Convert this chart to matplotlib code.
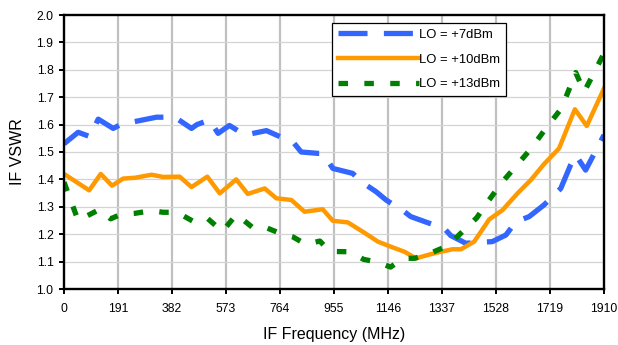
"""
IF VSWR vs IF frequency at three LO drive levels
"""

import matplotlib
matplotlib.use("Agg")
import matplotlib.pyplot as plt

plt.rcParams['font.family'] = ['Liberation Sans', 'DejaVu Sans']

# LO = +7dBm
freq_7 = [0, 50, 92, 121, 174, 200, 245, 327, 392, 451, 470, 515, 545, 585,
          640, 716, 790, 809, 839, 898, 915, 951, 1021, 1051, 1104, 1139,
          1204, 1227, 1292, 1345, 1368, 1421, 1515, 1563, 1598, 1645, 1698,
          1757, 1792, 1810, 1845, 1910]
vswr_7 = [1.53, 1.572, 1.556, 1.62, 1.586, 1.60, 1.61, 1.627, 1.627, 1.586,
          1.60, 1.617, 1.568, 1.597, 1.562, 1.578, 1.544, 1.538, 1.50, 1.495,
          1.495, 1.44, 1.422, 1.392, 1.355, 1.325, 1.282, 1.264, 1.24, 1.221,
          1.195, 1.167, 1.173, 1.197, 1.245, 1.264, 1.307, 1.367, 1.453,
          1.489, 1.434, 1.562]

# LO = +10dBm
freq_10 = [0, 89, 130, 170, 209, 251, 310, 350, 409, 451, 507, 551, 609, 650,
           710, 751, 804, 851, 915, 951, 1004, 1057, 1110, 1157, 1204, 1245,
           1290, 1333, 1374, 1404, 1451, 1504, 1551, 1604, 1653, 1698, 1751,
           1807, 1849, 1910]
vswr_10 = [1.42, 1.36, 1.42, 1.377, 1.403, 1.406, 1.417, 1.409, 1.41, 1.372,
           1.41, 1.349, 1.40, 1.347, 1.367, 1.331, 1.325, 1.282, 1.291, 1.249,
           1.243, 1.209, 1.173, 1.154, 1.136, 1.112, 1.125, 1.136, 1.145,
           1.145, 1.173, 1.254, 1.288, 1.349, 1.40, 1.456, 1.513, 1.656,
           1.595, 1.732]

# LO = +13dBm
freq_13 = [0, 50, 125, 165, 200, 250, 310, 350, 400, 455, 505, 560, 610, 670,
           710, 760, 810, 855, 905, 940, 1010, 1060, 1110, 1155, 1200, 1240,
           1290, 1340, 1380, 1420, 1460, 1500, 1550, 1600, 1650, 1700, 1760,
           1810, 1840, 1910]
vswr_13 = [1.39, 1.25, 1.29, 1.256, 1.272, 1.276, 1.286, 1.28, 1.28, 1.248,
           1.26, 1.21, 1.272, 1.222, 1.226, 1.205, 1.19, 1.163, 1.175, 1.137,
           1.136, 1.108, 1.098, 1.08, 1.112, 1.112, 1.128, 1.15, 1.18, 1.22,
           1.26, 1.32, 1.39, 1.45, 1.51, 1.58, 1.66, 1.79, 1.72, 1.86]

xticks = [0, 191, 382, 573, 764, 955, 1146, 1337, 1528, 1719, 1910]
yticks = [1.0, 1.1, 1.2, 1.3, 1.4, 1.5, 1.6, 1.7, 1.8, 1.9, 2.0]

fig = plt.figure(figsize=(6.18, 3.45), dpi=100)
ax = fig.add_axes([64 / 618, 1 - 289 / 345, 540 / 618, 274 / 345])

# grid: heavy vertical, light horizontal
for x in xticks[1:-1]:
    ax.axvline(x, color='#c0c0c0', lw=1.6, zorder=0)
for y in yticks[1:-1]:
    ax.axhline(y, color='#d4d4d4', lw=0.9, zorder=0)

l1, = ax.plot(freq_7, vswr_7, color='#3366ff', lw=3.8, label='LO = +7dBm',
              dash_capstyle='butt')
l1.set_dashes([5.5, 3.1])
l2, = ax.plot(freq_10, vswr_10, color='#ff9900', lw=3.2,
              label='LO = +10dBm')
l3, = ax.plot(freq_13, vswr_13, color='#008000', lw=3.8,
              label='LO = +13dBm', dash_capstyle='butt')
l3.set_dashes([1.8, 3.1])

ax.set_xlim(0, 1910)
ax.set_ylim(1.0, 2.0)
ax.set_xticks(xticks)
ax.set_yticks(yticks)
ax.set_yticklabels(['%.1f' % v for v in yticks])
ax.tick_params(axis='both', labelsize=8.8, direction='out', length=3.5,
               width=1.4, color='black', pad=4)
ax.tick_params(axis='x', pad=6.5)

for s in ax.spines.values():
    s.set_linewidth(1.7)
    s.set_color('black')

ax.set_xlabel('IF Frequency (MHz)', fontsize=11.5, labelpad=9)
ax.set_ylabel('IF VSWR', fontsize=11.5, labelpad=8)

leg = ax.legend(loc='upper left', bbox_to_anchor=(332 / 618, 1 - 23 / 345),
                bbox_transform=fig.transFigure, fontsize=9.4,
                handlelength=6.2, handletextpad=0.0, labelspacing=0.95,
                borderpad=0.45, borderaxespad=0, fancybox=False,
                framealpha=1, edgecolor='black')
leg.get_frame().set_linewidth(0.9)

fig.savefig('out.png', dpi=100)
